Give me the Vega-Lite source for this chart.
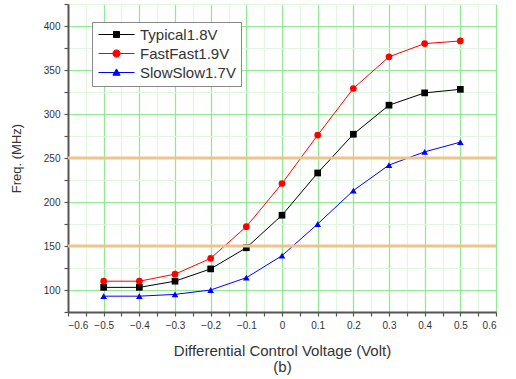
{
  "$schema": "https://vega.github.io/schema/vega-lite/v6.json",
  "width": 428,
  "height": 308,
  "autosize": "none",
  "padding": {"left": 68, "top": 4, "right": 20, "bottom": 67},
  "background": "white",
  "config": {"view": {"stroke": null}, "font": "Liberation Sans"},
  "datasets": {
    "series": [
      {"v": -0.5, "freq": 103, "s": "Typical1.8V"},
      {"v": -0.4, "freq": 103, "s": "Typical1.8V"},
      {"v": -0.3, "freq": 110, "s": "Typical1.8V"},
      {"v": -0.2, "freq": 124, "s": "Typical1.8V"},
      {"v": -0.1, "freq": 148, "s": "Typical1.8V"},
      {"v": 0.0, "freq": 185, "s": "Typical1.8V"},
      {"v": 0.1, "freq": 233, "s": "Typical1.8V"},
      {"v": 0.2, "freq": 277, "s": "Typical1.8V"},
      {"v": 0.3, "freq": 310, "s": "Typical1.8V"},
      {"v": 0.4, "freq": 324, "s": "Typical1.8V"},
      {"v": 0.5, "freq": 328, "s": "Typical1.8V"},
      {"v": -0.5, "freq": 110, "s": "FastFast1.9V"},
      {"v": -0.4, "freq": 110, "s": "FastFast1.9V"},
      {"v": -0.3, "freq": 118, "s": "FastFast1.9V"},
      {"v": -0.2, "freq": 136, "s": "FastFast1.9V"},
      {"v": -0.1, "freq": 172, "s": "FastFast1.9V"},
      {"v": 0.0, "freq": 221, "s": "FastFast1.9V"},
      {"v": 0.1, "freq": 276, "s": "FastFast1.9V"},
      {"v": 0.2, "freq": 329, "s": "FastFast1.9V"},
      {"v": 0.3, "freq": 365, "s": "FastFast1.9V"},
      {"v": 0.4, "freq": 380, "s": "FastFast1.9V"},
      {"v": 0.5, "freq": 383, "s": "FastFast1.9V"},
      {"v": -0.5, "freq": 93, "s": "SlowSlow1.7V"},
      {"v": -0.4, "freq": 93, "s": "SlowSlow1.7V"},
      {"v": -0.3, "freq": 95, "s": "SlowSlow1.7V"},
      {"v": -0.2, "freq": 100, "s": "SlowSlow1.7V"},
      {"v": -0.1, "freq": 114, "s": "SlowSlow1.7V"},
      {"v": 0.0, "freq": 139, "s": "SlowSlow1.7V"},
      {"v": 0.1, "freq": 175, "s": "SlowSlow1.7V"},
      {"v": 0.2, "freq": 213, "s": "SlowSlow1.7V"},
      {"v": 0.3, "freq": 242, "s": "SlowSlow1.7V"},
      {"v": 0.4, "freq": 257, "s": "SlowSlow1.7V"},
      {"v": 0.5, "freq": 268, "s": "SlowSlow1.7V"}
    ],
    "refs": [{"freq": 150}, {"freq": 250}]
  },
  "resolve": {"axis": {"x": "independent", "y": "independent"}},
  "layer": [
    {
      "data": {"name": "series"},
      "encoding": {
        "x": {
          "field": "v", "type": "quantitative",
          "scale": {"domain": [-0.6, 0.6], "nice": false, "zero": false},
          "title": ["Differential Control Voltage (Volt)", "(b)"],
          "axis": {
            "orient": "bottom",
            "values": [-0.6, -0.55, -0.5, -0.45, -0.4, -0.35, -0.3, -0.25, -0.2, -0.15, -0.1, -0.05, 0, 0.05, 0.1, 0.15, 0.2, 0.25, 0.3, 0.35, 0.4, 0.45, 0.5, 0.55, 0.6],
            "format": ".1~f",
            "labelExpr": "abs(round(datum.value*100)) % 10 === 0 ? datum.label : ''",
            "labelOverlap": false,
            "labelFontSize": 10,
            "labelColor": "#333",
            "labelPadding": 4,
            "gridColor": "#e0f6e0",
            "gridWidth": 1.2,
            "tickSize": 4,
            "tickColor": "#555",
            "tickWidth": 1.2,
            "domainColor": "#555",
            "domainWidth": 2,
            "titleFontSize": 15,
            "titleFontWeight": "normal",
            "titleColor": "#333",
            "titlePadding": 13,
            "titleLineHeight": 16
          }
        },
        "y": {
          "field": "freq", "type": "quantitative",
          "scale": {"domain": [75, 425], "nice": false, "zero": false},
          "title": "Freq. (MHz)",
          "axis": {
            "orient": "left",
            "values": [75, 100, 125, 150, 175, 200, 225, 250, 275, 300, 325, 350, 375, 400, 425],
            "labelExpr": "datum.value % 50 === 0 ? datum.label : ''",
            "labelOverlap": false,
            "labelFontSize": 10,
            "labelColor": "#333",
            "labelPadding": 4,
            "gridColor": "#e0f6e0",
            "gridWidth": 1.2,
            "tickSize": 4,
            "tickColor": "#555",
            "tickWidth": 1.2,
            "domainColor": "#555",
            "domainWidth": 2,
            "titleFontSize": 13,
            "titleFontWeight": "normal",
            "titleColor": "#333",
            "titlePadding": 20
          }
        },
        "color": {"field": "s", "type": "nominal",
          "scale": {"domain": ["Typical1.8V", "FastFast1.9V", "SlowSlow1.7V"], "range": ["#000000", "#ff0000", "#0000ff"]},
          "legend": {
            "title": null,
            "orient": "none",
            "legendX": 24,
            "legendY": 18,
            "strokeColor": "#888",
            "fillColor": "white",
            "padding": 5,
            "symbolSize": 144,
            "symbolOffset": 12,
            "labelFontSize": 15,
            "labelColor": "#333",
            "labelOffset": 16,
            "rowPadding": 3,
            "encode": {
              "symbols": {
                "update": {
                  "shape": {"signal": "datum.value === 'Typical1.8V' ? 'M-3,0H3M-0.5,-0.5H0.5V0.5H-0.5Z' : datum.value === 'FastFast1.9V' ? 'M-3,0H3M0.6,0A0.6,0.6,0,1,1,-0.6,0A0.6,0.6,0,1,1,0.6,0Z' : 'M-3,0H3M0,-0.6L0.6,0.45L-0.6,0.45Z'"},
                  "fill": {"signal": "scale('color', datum.value)"},
                  "stroke": {"signal": "scale('color', datum.value)"},
                  "strokeWidth": {"value": 1},
                  "opacity": {"value": 1}
                }
              }
            }
          }
        }
      },
      "layer": [
        {"mark": {"type": "line", "strokeWidth": 1}},
        {
          "mark": {"type": "point", "filled": true, "size": 45, "opacity": 1},
          "encoding": {
            "shape": {
              "condition": [
                {"test": "datum.s === 'Typical1.8V'", "value": "square"},
                {"test": "datum.s === 'FastFast1.9V'", "value": "circle"}
              ],
              "value": "triangle-up"
            }
          }
        }
      ]
    },
    {
      "data": {"name": "refs"},
      "mark": {"type": "rule", "color": "#eec48a", "strokeWidth": 3},
      "encoding": {
        "y": {
          "field": "freq", "type": "quantitative",
          "scale": {"domain": [75, 425], "nice": false, "zero": false},
          "axis": {
            "orient": "right",
            "values": [100, 150, 200, 250, 300, 350, 400],
            "labels": false,
            "ticks": false,
            "domain": false,
            "title": null,
            "grid": true,
            "gridColor": "#93e993",
            "gridWidth": 1.2
          }
        }
      }
    },
    {
      "data": {"name": "series"},
      "mark": {"type": "point", "opacity": 0},
      "encoding": {
        "x": {
          "field": "v", "type": "quantitative",
          "scale": {"domain": [-0.6, 0.6], "nice": false, "zero": false},
          "axis": {
            "orient": "top",
            "values": [-0.5, -0.4, -0.3, -0.2, -0.1, 0, 0.1, 0.2, 0.3, 0.4, 0.5, 0.6],
            "labels": false,
            "ticks": false,
            "domain": false,
            "title": null,
            "grid": true,
            "gridColor": "#93e993",
            "gridWidth": 1.2
          }
        },
        "y": {"field": "freq", "type": "quantitative", "scale": {"domain": [75, 425], "nice": false, "zero": false}, "axis": null}
      }
    }
  ]
}
